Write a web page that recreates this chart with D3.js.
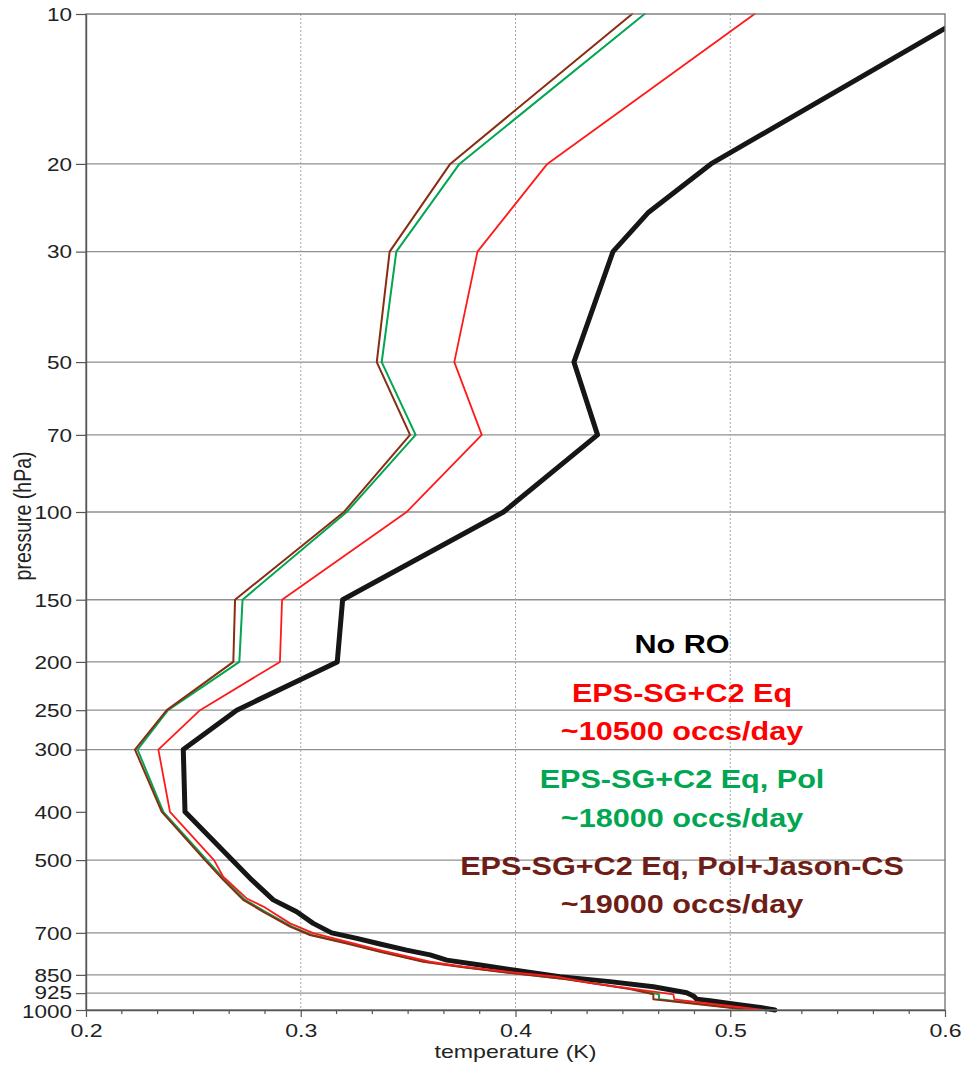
<!DOCTYPE html>
<html>
<head>
<meta charset="utf-8">
<script src="https://cdn.jsdelivr.net/npm/d3@7"></script>
<style>
  html, body { margin: 0; padding: 0; background: #fff; }
  svg { display: block; font-family: "Liberation Sans", Arial, Helvetica, sans-serif; }
</style>
</head>
<body>
<svg id="chart" width="961" height="1065"></svg>
<script>
// Pressure levels labelled on the vertical axis (hPa)
const pressureTicks = [10, 20, 30, 50, 70, 100, 150, 200, 250, 300, 400, 500, 700, 850, 925, 1000];
// Levels that carry a horizontal grid line
const gridPressures = [20, 30, 50, 70, 100, 150, 200, 250, 300, 500, 700, 850, 925];
// Temperature ticks (K)
const tempTicks = [0.2, 0.3, 0.4, 0.5, 0.6];
const tempGridTicks = [0.3, 0.4, 0.5];

// Temperature error profiles: [pressure hPa, temperature K]
const noRO = [
  [10, 0.6116], [20, 0.491], [25, 0.462], [30, 0.4454], [50, 0.4272], [70, 0.4382],
  [100, 0.3944], [150, 0.3195], [200, 0.317], [250, 0.2702], [300, 0.2453], [400, 0.2461],
  [500, 0.2681], [548, 0.2772], [601, 0.2872], [635, 0.2981], [670, 0.3058], [700, 0.3144],
  [718, 0.3261], [737, 0.3369], [758, 0.3493], [775, 0.3602], [794, 0.368], [812, 0.3835],
  [831, 0.399], [857, 0.4207], [877, 0.444], [898, 0.4642], [923, 0.4797], [937, 0.4828],
  [951, 0.4844], [958, 0.4906], [973, 0.5014], [988, 0.5139], [1000, 0.5208]
];
const eq = [
  [10, 0.5113], [20, 0.4148], [30, 0.3823], [50, 0.3715], [70, 0.3843], [100, 0.3493],
  [150, 0.2913], [200, 0.2903], [250, 0.2531], [300, 0.2337], [400, 0.2391], [500, 0.2596],
  [540, 0.2639], [597, 0.2748], [620, 0.2826], [670, 0.295], [701, 0.3058], [729, 0.3214],
  [758, 0.3369], [800, 0.3602], [818, 0.3757], [840, 0.399], [857, 0.4192], [884, 0.4362],
  [905, 0.4533], [930, 0.4735], [952, 0.474], [1000, 0.5154]
];
const eqPol = [
  [10, 0.4601], [20, 0.3739], [30, 0.3445], [50, 0.3377], [70, 0.3535], [100, 0.3214],
  [150, 0.2729], [200, 0.2714], [250, 0.2382], [300, 0.224], [400, 0.236], [500, 0.2563],
  [548, 0.2647], [601, 0.274], [635, 0.2836], [680, 0.2959], [707, 0.3052], [735, 0.3225],
  [764, 0.3378], [800, 0.3581], [821, 0.3767], [844, 0.3998], [864, 0.4212], [908, 0.4543],
  [930, 0.4668], [952, 0.4668], [1000, 0.5105]
];
const eqPolJason = [
  [10, 0.4543], [20, 0.3696], [30, 0.3414], [50, 0.3354], [70, 0.3509], [100, 0.3201],
  [150, 0.2694], [200, 0.2686], [250, 0.2376], [300, 0.2228], [400, 0.2353], [500, 0.2554],
  [548, 0.2639], [601, 0.2732], [635, 0.2826], [680, 0.295], [707, 0.3043], [735, 0.3214],
  [764, 0.3369], [800, 0.3571], [821, 0.3757], [844, 0.399], [864, 0.4207], [908, 0.4533],
  [930, 0.4642], [952, 0.4642], [1000, 0.5095]
];

// Legend text, one entry per line
const legendLines = [
  "No RO",
  "EPS-SG+C2 Eq", "~10500 occs/day",
  "EPS-SG+C2 Eq, Pol", "~18000 occs/day",
  "EPS-SG+C2 Eq, Pol+Jason-CS", "~19000 occs/day"
];
const legendColors = ["#000000", "#ff0000", "#ff0000", "#00a651", "#00a651", "#6e1e16", "#6e1e16"];
const legendBaselines = [653, 702, 740, 788, 827, 875, 913];

const plotLeft = 86, plotRight = 945, plotTop = 14, plotBottom = 1010;
const stretch = "scale(1.25,1)";

const svg = d3.select("#chart");
const x = d3.scaleLinear().domain([0.2, 0.6]).range([plotLeft, plotRight]);
const y = d3.scaleLog().domain([10, 1000]).range([plotTop, plotBottom]);

// Grid
svg.append("g").selectAll("line").data(gridPressures).join("line")
  .attr("x1", plotLeft).attr("x2", plotRight)
  .attr("y1", d => y(d)).attr("y2", d => y(d))
  .attr("stroke", "#8f8f8f").attr("stroke-width", 1.4);
svg.append("g").selectAll("line").data(tempGridTicks).join("line")
  .attr("x1", d => x(d)).attr("x2", d => x(d))
  .attr("y1", plotTop).attr("y2", plotBottom)
  .attr("stroke", "#a8a8a8").attr("stroke-width", 1).attr("stroke-dasharray", "2,2");

// Profiles
svg.append("defs").append("clipPath").attr("id", "plot")
  .append("rect").attr("x", plotLeft).attr("y", plotTop - 3)
  .attr("width", plotRight - plotLeft).attr("height", plotBottom - plotTop + 6);
const line = d3.line().x(d => x(d[1])).y(d => y(d[0]));
const series = [
  { data: noRO, color: "#161616", width: 5 },
  { data: eqPol, color: "#00a651", width: 2 },
  { data: eqPolJason, color: "#8a2c12", width: 2 },
  { data: eq, color: "#ff1a1a", width: 1.8 }
];
svg.append("g").attr("clip-path", "url(#plot)")
  .selectAll("path").data(series).join("path")
  .attr("d", d => line(d.data))
  .attr("fill", "none")
  .attr("stroke", d => d.color)
  .attr("stroke-width", d => d.width)
  .attr("stroke-linejoin", "round")
  .attr("stroke-linecap", "round");

// Frame
svg.append("rect").attr("x", plotLeft).attr("y", plotTop)
  .attr("width", plotRight - plotLeft).attr("height", plotBottom - plotTop)
  .attr("fill", "none").attr("stroke", "#7a7a7a").attr("stroke-width", 1.4);

// Left axis; the two lowest labels are nudged apart a little
const labelNudge = { 925: -0.7, 1000: 1 };
const yAxis = svg.append("g").attr("transform", `translate(${plotLeft},0)`)
  .call(d3.axisLeft(y).tickValues(pressureTicks).tickSize(10).tickSizeOuter(0).tickFormat(d3.format("d")));
yAxis.select(".domain").attr("stroke", "#555").attr("stroke-width", 1.4);
yAxis.selectAll(".tick line").attr("stroke", "#555").attr("stroke-width", 1.2);
yAxis.selectAll(".tick text")
  .attr("x", null).attr("dy", null).attr("y", d => 6.3 + (labelNudge[d] || 0))
  .attr("transform", `translate(-14,0) ${stretch}`)
  .attr("text-anchor", "end")
  .attr("font-size", 18).attr("fill", "#222");

// Bottom axis
const minorTicks = d3.range(0, 25).map(i => 0.2 + i * 0.1 / 6).filter((d, i) => i % 6 !== 0);
svg.append("g").selectAll("line").data(minorTicks).join("line")
  .attr("x1", d => x(d)).attr("x2", d => x(d))
  .attr("y1", plotBottom).attr("y2", plotBottom + 4)
  .attr("stroke", "#555").attr("stroke-width", 1.2);
const xAxis = svg.append("g").attr("transform", `translate(0,${plotBottom})`)
  .call(d3.axisBottom(x).tickValues(tempTicks).tickSize(7).tickSizeOuter(0).tickFormat(d3.format(".1f")));
xAxis.select(".domain").attr("stroke", "#555").attr("stroke-width", 1.4);
xAxis.selectAll(".tick line").attr("stroke", "#555").attr("stroke-width", 1.2);
xAxis.selectAll(".tick text")
  .attr("y", 0).attr("dy", null)
  .attr("transform", `translate(0,27) ${stretch}`)
  .attr("text-anchor", "middle")
  .attr("font-size", 18.5).attr("fill", "#222");

// Axis titles
svg.append("text")
  .attr("transform", `translate(${(plotLeft + plotRight) / 2},1058) ${stretch}`)
  .attr("text-anchor", "middle").attr("font-size", 18.5).attr("fill", "#222")
  .text("temperature (K)");
svg.append("text")
  .attr("transform", `translate(31,516) ${stretch} rotate(-90)`)
  .attr("text-anchor", "middle").attr("font-size", 19.5).attr("fill", "#222")
  .text("pressure (hPa)");

// Legend
svg.append("g").selectAll("text").data(legendLines).join("text")
  .attr("transform", (d, i) => `translate(682,${legendBaselines[i]}) scale(1.2,1)`)
  .attr("text-anchor", "middle")
  .attr("font-size", 25.5).attr("font-weight", "bold")
  .attr("fill", (d, i) => legendColors[i])
  .text(d => d);
</script>
</body>
</html>
